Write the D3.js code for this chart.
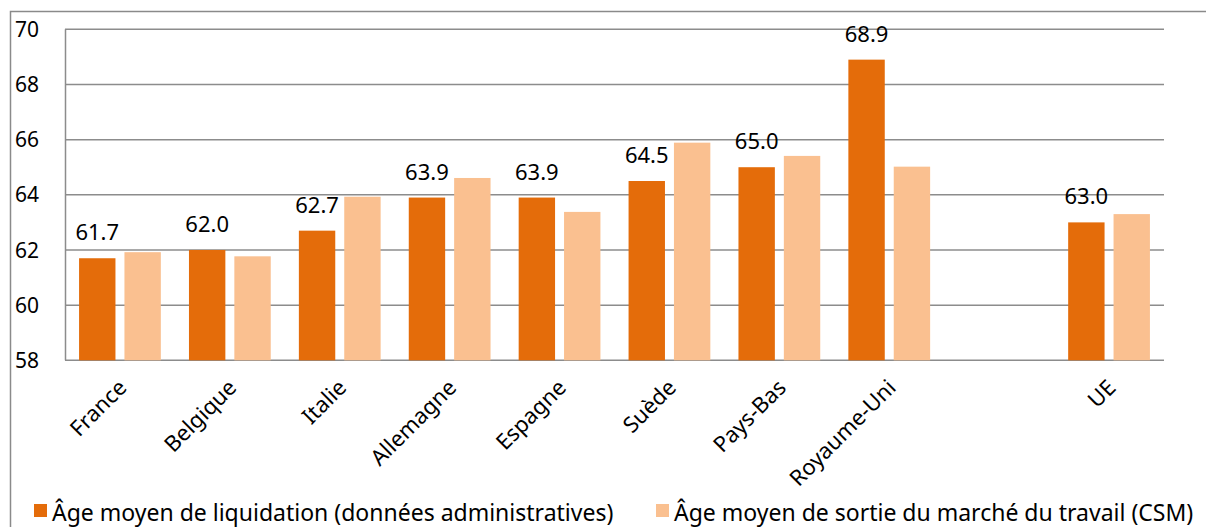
<!DOCTYPE html>
<html lang="fr">
<head>
<meta charset="utf-8">
<style>
  body { margin: 0; background: #fff; }
  text { font-family: "Noto Sans", sans-serif; fill: #000; }
</style>
<script src="https://cdn.jsdelivr.net/npm/d3@7"></script>
</head>
<body>
<script>
var categories = ["France", "Belgique", "Italie", "Allemagne", "Espagne", "Suède", "Pays-Bas", "Royaume-Uni", "", "UE"];
var liquidation = [61.7, 62.0, 62.7, 63.9, 63.9, 64.5, 65.0, 68.9, null, 63.0];
var sortieMarche = [61.92, 61.77, 63.93, 64.61, 63.38, 65.89, 65.41, 65.02, null, 63.3];
var yTicks = [58, 60, 62, 64, 66, 68, 70];
var seriesNames = ["Âge moyen de liquidation (données administratives)", "Âge moyen de sortie du marché du travail (CSM)"];
var colors = ["#e46c0a", "#fac090"];

var width = 1206, height = 527;

var svg = d3.select("body").append("svg")
  .attr("width", width)
  .attr("height", height);

// outer frame
svg.append("rect")
  .attr("x", 10.5).attr("y", 11.5)
  .attr("width", 1220).attr("height", 540)
  .attr("fill", "none")
  .attr("stroke", "#8a8a8a")
  .attr("stroke-width", 1.5);

var x0 = d3.scaleBand().domain(categories).range([65, 1164]).padding(0);
var x1 = d3.scaleBand().domain([0, 1]).range([0, x0.bandwidth()])
  .paddingInner(0.198).paddingOuter(0.31);
var y = d3.scaleLinear().domain([58, 70]).range([360.3, 29.3]);

// gridlines
svg.append("g").selectAll("line")
  .data(yTicks)
  .enter().append("line")
  .attr("x1", 65).attr("x2", 1164)
  .attr("y1", function(d) { return y(d); })
  .attr("y2", function(d) { return y(d); })
  .attr("stroke", "#8c8c8c")
  .attr("stroke-width", 1.5);

// y axis line
svg.append("line")
  .attr("x1", 65.5).attr("x2", 65.5)
  .attr("y1", y(70)).attr("y2", y(58))
  .attr("stroke", "#8c8c8c")
  .attr("stroke-width", 1.5);

// y tick labels
svg.append("g").selectAll("text")
  .data(yTicks)
  .enter().append("text")
  .attr("x", 39)
  .attr("y", function(d) { return y(d); })
  .attr("dy", "0.36em")
  .attr("text-anchor", "end")
  .style("font-size", "21px")
  .text(function(d) { return d; });

var rows = categories.map(function(c, i) {
  return { cat: c, vals: [liquidation[i], sortieMarche[i]] };
});

var groups = svg.append("g").selectAll("g")
  .data(rows)
  .enter().append("g")
  .attr("transform", function(d) { return "translate(" + x0(d.cat) + ",0)"; });

groups.selectAll("rect")
  .data(function(d) { return d.vals.map(function(v, k) { return { k: k, v: v }; }).filter(function(e) { return e.v != null; }); })
  .enter().append("rect")
  .attr("x", function(d) { return x1(d.k); })
  .attr("width", x1.bandwidth())
  .attr("y", function(d) { return y(d.v); })
  .attr("height", function(d) { return y(58) - y(d.v); })
  .attr("fill", function(d) { return colors[d.k]; });

// value labels on first series
groups.filter(function(d) { return d.vals[0] != null; })
  .append("text")
  .attr("x", x1(0) + x1.bandwidth() / 2)
  .attr("y", function(d) { return y(d.vals[0]) - 18; })
  .attr("text-anchor", "middle")
  .style("font-size", "22px")
  .text(function(d) { return d3.format(".1f")(d.vals[0]); });

// category labels
svg.append("g").selectAll("text")
  .data(categories.filter(function(c) { return c !== ""; }))
  .enter().append("text")
  .attr("text-anchor", "end")
  .attr("transform", function(d) {
    return "translate(" + (x0(d) + x0.bandwidth() / 2 + 8) + ",389) rotate(-45)";
  })
  .style("font-size", "22px")
  .text(function(d) { return d; });

// legend
var legendX = [34, 656];
var legend = svg.append("g").selectAll("g")
  .data(seriesNames)
  .enter().append("g")
  .attr("transform", function(d, i) { return "translate(" + legendX[i] + ",0)"; });

legend.append("rect")
  .attr("x", 0).attr("y", 504)
  .attr("width", 13).attr("height", 13)
  .attr("fill", function(d, i) { return colors[i]; });

legend.append("text")
  .attr("x", 18).attr("y", 521)
  .style("font-size", "23px")
  .text(function(d) { return d; });
</script>
</body>
</html>
